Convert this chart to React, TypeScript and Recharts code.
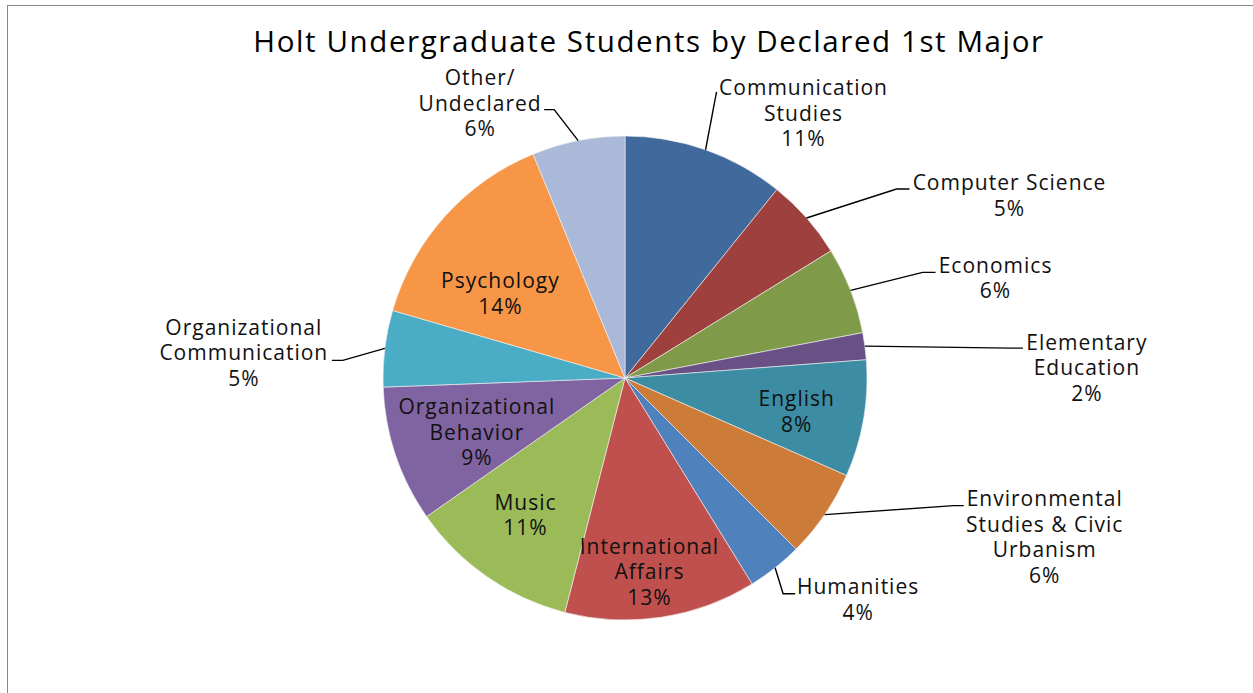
import React from "react";
import { PieChart, Pie, Cell } from "recharts";

// 申报第一专业的学生占比
const majors = [
  "Communication Studies",
  "Computer Science",
  "Economics",
  "Elementary Education",
  "English",
  "Environmental Studies & Civic Urbanism",
  "Humanities",
  "International Affairs",
  "Music",
  "Organizational Behavior",
  "Organizational Communication",
  "Psychology",
  "Other/Undeclared",
];

const labelLines = [
  ["Communication", "Studies"],
  ["Computer Science"],
  ["Economics"],
  ["Elementary", "Education"],
  ["English"],
  ["Environmental", "Studies & Civic", "Urbanism"],
  ["Humanities"],
  ["International", "Affairs"],
  ["Music"],
  ["Organizational", "Behavior"],
  ["Organizational", "Communication"],
  ["Psychology"],
  ["Other/", "Undeclared"],
];

const shares = [10.8, 5.4, 5.8, 1.8, 7.8, 5.9, 3.7, 12.8, 11.3, 9.1, 5.1, 14.3, 6.2];

const colors = [
  "#416A9C",
  "#9E413E",
  "#7F9A48",
  "#695185",
  "#3C8DA3",
  "#CC7B38",
  "#4F81BD",
  "#C0504D",
  "#9BBB59",
  "#8064A2",
  "#4BACC6",
  "#F79646",
  "#AAB9D7",
];

// 标签摆放：in = 扇区内部，out = 外部带引导线（相对扇区外缘中点的偏移）
type Spot =
  | { kind: "in"; r: number; dx: number; dy: number }
  | { kind: "out"; elbow: [number, number]; tail: number; text: [number, number] };

const labelSpots: Spot[] = [
  { kind: "out", elbow: [11, -58], tail: 11, text: [98, -62] },
  { kind: "out", elbow: [90, -29], tail: 103, text: [203, -35] },
  { kind: "out", elbow: [72, -18], tail: 85, text: [145, -25] },
  { kind: "out", elbow: [146, 2], tail: 158, text: [222, -4] },
  { kind: "in", r: 0.72, dx: 0, dy: 4 },
  { kind: "out", elbow: [129, -9], tail: 139, text: [220, -16] },
  { kind: "out", elbow: [8, 26], tail: 20, text: [83, 19] },
  { kind: "in", r: 0.81, dx: -5, dy: 0 },
  { kind: "in", r: 0.7, dx: -3, dy: -2 },
  { kind: "in", r: 0.65, dx: 1, dy: 4 },
  { kind: "out", elbow: [-42, 12], tail: -53, text: [-141, -21] },
  { kind: "in", r: 0.62, dx: -13, dy: 16 },
  { kind: "out", elbow: [-24, -31], tail: -34, text: [-98, -63] },
];

const data = majors.map((name, i) => ({ name, value: shares[i] }));

const FONT = "'Open Sans', sans-serif";
const SIZE = 21;
const LINE = 25.5;
const CAP = SIZE * 0.714;
const RADIAN = Math.PI / 180;

const renderLabel = (props: any) => {
  const { cx, cy, midAngle, outerRadius, percent, index } = props;
  const spot = labelSpots[index];
  const lines = [...labelLines[index], `${Math.round(percent * 100)}%`];
  const cos = Math.cos(-midAngle * RADIAN);
  const sin = Math.sin(-midAngle * RADIAN);

  const textBlock = (x: number, firstY: number) => (
    <text
      textAnchor="middle"
      fill="#111"
      fontFamily={FONT}
      fontSize={SIZE}
      letterSpacing={1}
    >
      {lines.map((l, i) => (
        <tspan key={i} x={x} y={firstY + i * LINE + CAP / 2}>
          {l}
        </tspan>
      ))}
    </text>
  );

  if (spot.kind === "in") {
    const x = cx + outerRadius * spot.r * cos + spot.dx;
    const yc = cy + outerRadius * spot.r * sin + spot.dy;
    return <g key={`lbl-${index}`}>{textBlock(x, yc - ((lines.length - 1) * LINE) / 2)}</g>;
  }

  const ex = cx + outerRadius * cos;
  const ey = cy + outerRadius * sin;
  const bx = ex + spot.elbow[0];
  const by = ey + spot.elbow[1];
  const tx = ex + spot.tail;
  return (
    <g key={`lbl-${index}`}>
      <polyline
        points={`${ex},${ey} ${bx},${by} ${tx},${by}`}
        fill="none"
        stroke="#000"
        strokeWidth={1.4}
      />
      {textBlock(ex + spot.text[0], ey + spot.text[1])}
    </g>
  );
};

const App: React.FC = () => {
  return (
    <div
      style={{
        position: "absolute",
        left: 0,
        top: 0,
        width: 1253,
        height: 693,
        overflow: "hidden",
        background: "#fff",
      }}
    >
      <div
        style={{
          position: "absolute",
          left: 7,
          top: 5,
          width: 1300,
          height: 760,
          borderLeft: "1px solid #888",
          borderTop: "1px solid #888",
        }}
      />
      <div style={{ position: "absolute", left: 0, top: 0 }}>
        <PieChart width={1253} height={693} margin={{ top: 0, right: 0, bottom: 0, left: 0 }}>
          <Pie
            data={data}
            dataKey="value"
            nameKey="name"
            cx={625}
            cy={378}
            outerRadius={242}
            startAngle={90}
            endAngle={-270}
            stroke="#f4f4f4"
            strokeWidth={0.6}
            label={renderLabel}
            labelLine={false}
            isAnimationActive={false}
          >
            {data.map((entry, index) => (
              <Cell key={`cell-${index}`} fill={colors[index]} />
            ))}
          </Pie>
        </PieChart>
      </div>
      <svg
        width={1253}
        height={693}
        style={{ position: "absolute", left: 0, top: 0, pointerEvents: "none" }}
      >
        <text
          x={649}
          y={52}
          textAnchor="middle"
          fill="#000"
          fontFamily={FONT}
          fontSize={29.5}
          letterSpacing={1.6}
        >
          Holt Undergraduate Students by Declared 1st Major
        </text>
      </svg>
    </div>
  );
};

export default App;
